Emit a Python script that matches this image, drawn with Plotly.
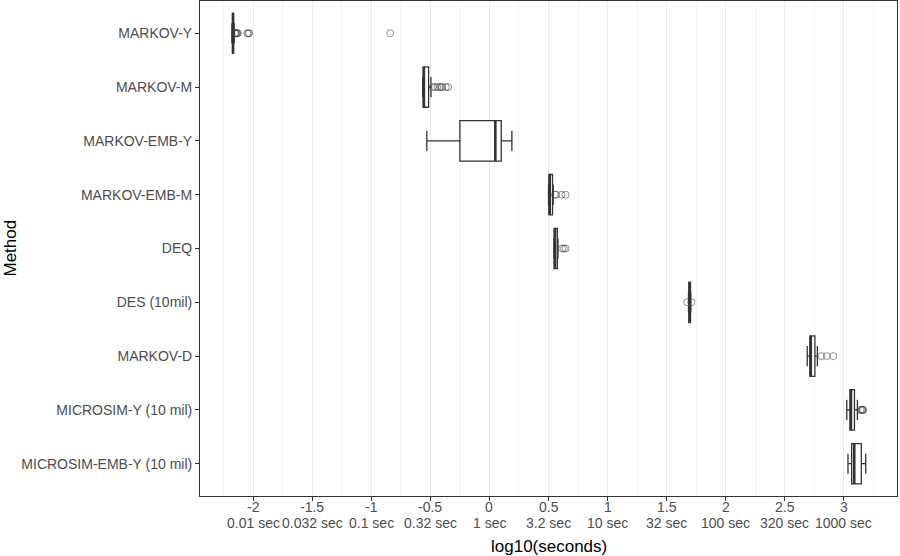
import plotly.graph_objects as go

methods = ["MARKOV-Y", "MARKOV-M", "MARKOV-EMB-Y", "MARKOV-EMB-M", "DEQ",
           "DES (10mil)", "MARKOV-D", "MICROSIM-Y (10 mil)", "MICROSIM-EMB-Y (10 mil)"]

q1 = [-2.175, -0.56, -0.25, 0.505, 0.548, 1.688, 2.713, 3.052, 3.066]
median = [-2.17, -0.555, 0.05, 0.51, 0.555, 1.695, 2.72, 3.06, 3.088]
q3 = [-2.168, -0.515, 0.10, 0.534, 0.575, 1.702, 2.755, 3.09, 3.148]
lower = [-2.18, -0.565, -0.53, 0.50, 0.545, 1.685, 2.69, 3.025, 3.035]
upper = [-2.16, -0.495, 0.19, 0.54, 0.58, 1.705, 2.776, 3.115, 3.185]

outlier_method = (["MARKOV-Y"] * 10 + ["MARKOV-M"] * 8 + ["MARKOV-EMB-M"] * 4 +
                  ["DEQ"] * 3 + ["DES (10mil)"] * 2 + ["MARKOV-D"] * 3 +
                  ["MICROSIM-Y (10 mil)"] * 5)
outlier_value = [-2.155, -2.15, -2.145, -2.14, -2.135, -2.13, -2.05, -2.04, -2.035, -0.84,
                 -0.48, -0.46, -0.44, -0.42, -0.41, -0.40, -0.37, -0.35,
                 0.555, 0.565, 0.61, 0.645,
                 0.615, 0.63, 0.645,
                 1.675, 1.71,
                 2.81, 2.855, 2.91,
                 3.14, 3.15, 3.155, 3.16, 3.165]

tick_vals = [-2, -1.5, -1, -0.5, 0, 0.5, 1, 1.5, 2, 2.5, 3]
tick_nums = ["-2", "-1.5", "-1", "-0.5", "0", "0.5", "1", "1.5", "2", "2.5", "3"]
tick_secs = ["0.01 sec", "0.032 sec", "0.1 sec", "0.32 sec", "1 sec", "3.2 sec",
             "10 sec", "32 sec", "100 sec", "320 sec", "1000 sec"]

pos = list(range(len(methods)))
idx = {m: i for i, m in enumerate(methods)}
BOXW = 0.75
dark = "#333333"
tickgrey = "#4d4d4d"

W, H = 900, 556
ML, MR, MT, MB = 200, 3, 1, 60
PW, PH = W - ML - MR, H - MT - MB
BOTTOM = MT + PH

fig = go.Figure()
fig.add_trace(go.Box(
    y=pos, q1=q1, median=median, q3=q3, lowerfence=lower, upperfence=upper,
    orientation="h", width=BOXW, fillcolor="white",
    line=dict(color=dark, width=1.3), boxpoints=False, showlegend=False,
))

# thicker median lines (ggplot style)
mx, my = [], []
for i, m in enumerate(median):
    mx += [m, m, None]
    my += [i - BOXW / 2, i + BOXW / 2, None]
fig.add_trace(go.Scatter(x=mx, y=my, mode="lines", line=dict(color=dark, width=2.6),
                         showlegend=False, hoverinfo="skip"))

fig.add_trace(go.Scatter(
    x=outlier_value, y=[idx[m] for m in outlier_method], mode="markers",
    marker=dict(symbol="circle-open", size=7, color="rgba(60,60,60,0.55)",
                line=dict(width=1)),
    showlegend=False,
))

annotations = [
    dict(text="log10(seconds)", xref="paper", yref="paper",
         x=0.5, y=-(546 - BOTTOM) / PH, xanchor="center", yanchor="middle",
         showarrow=False, font=dict(size=17, color="black")),
    dict(text="Method", xref="paper", yref="paper",
         x=-(ML - 10) / PW, y=0.5, xanchor="center", yanchor="middle",
         textangle=-90, showarrow=False, font=dict(size=17, color="black")),
]
for v, n, s in zip(tick_vals, tick_nums, tick_secs):
    annotations.append(dict(text=n, xref="x", yref="paper", x=v,
                            y=-(507 - BOTTOM) / PH, xanchor="center", yanchor="middle",
                            showarrow=False, font=dict(size=14, color=tickgrey)))
    annotations.append(dict(text=s, xref="x", yref="paper", x=v,
                            y=-(523 - BOTTOM) / PH, xanchor="center", yanchor="middle",
                            showarrow=False, font=dict(size=14, color=tickgrey)))

fig.update_layout(
    width=W, height=H,
    margin=dict(l=ML, r=MR, t=MT, b=MB),
    paper_bgcolor="white", plot_bgcolor="white",
    font=dict(family="Liberation Sans, Arial, sans-serif", size=14, color=tickgrey),
    xaxis=dict(
        range=[-2.45, 3.45], tickmode="array", tickvals=tick_vals,
        showticklabels=False,
        automargin=False,
        showgrid=True, gridcolor="#ebebeb", gridwidth=1,
        minor=dict(tick0=-2.25, dtick=0.5, showgrid=True, gridcolor="#f3f3f3", gridwidth=1),
        showline=True, linecolor=dark, linewidth=1, mirror=True,
        ticks="outside", ticklen=4, tickcolor=dark, tickwidth=1,
        zeroline=False,
    ),
    yaxis=dict(
        range=[len(methods) - 1 + 0.6, -0.6], tickmode="array", tickvals=pos, ticktext=methods,
        automargin=False,
        showgrid=False, zeroline=False,
        showline=True, linecolor=dark, linewidth=1, mirror=True,
        ticks="outside", ticklen=4, tickcolor=dark, tickwidth=1,
    ),
    annotations=annotations,
)

fig.write_html(
    "out.html",
    config={"displayModeBar": False},
    post_script="document.body.style.margin='0';document.body.style.overflow='hidden';",
)
